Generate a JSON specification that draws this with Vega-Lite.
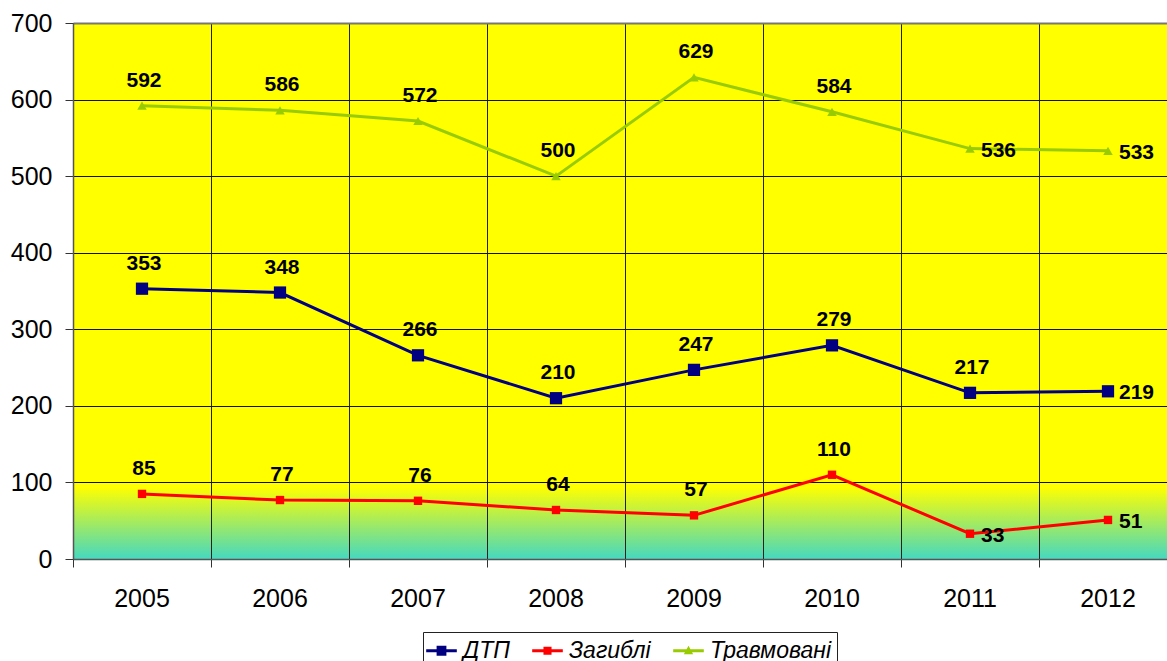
{
  "$schema": "https://vega.github.io/schema/vega-lite/v6.json",
  "width": 1094,
  "height": 536,
  "autosize": {"type": "none"},
  "padding": {"left": 73, "top": 23, "right": 0, "bottom": 102},
  "background": "white",
  "view": {
    "stroke": null,
    "fill": {
      "gradient": "linear",
      "x1": 0, "y1": 0, "x2": 0, "y2": 1,
      "stops": [
        {"offset": 0, "color": "#ffff00"},
        {"offset": 0.865, "color": "#ffff00"},
        {"offset": 0.93, "color": "#a6eb5e"},
        {"offset": 1, "color": "#45d8c0"}
      ]
    }
  },
  "config": {
    "font": "Liberation Sans",
    "axis": {"labelFont": "Liberation Sans", "labelColor": "black", "labelFontSize": 25, "title": null}
  },
  "data": {
    "values": [
      {"year": "2005", "series": "ДТП", "value": 353},
      {"year": "2006", "series": "ДТП", "value": 348},
      {"year": "2007", "series": "ДТП", "value": 266},
      {"year": "2008", "series": "ДТП", "value": 210},
      {"year": "2009", "series": "ДТП", "value": 247},
      {"year": "2010", "series": "ДТП", "value": 279},
      {"year": "2011", "series": "ДТП", "value": 217},
      {"year": "2012", "series": "ДТП", "value": 219},
      {"year": "2005", "series": "Загиблі", "value": 85},
      {"year": "2006", "series": "Загиблі", "value": 77},
      {"year": "2007", "series": "Загиблі", "value": 76},
      {"year": "2008", "series": "Загиблі", "value": 64},
      {"year": "2009", "series": "Загиблі", "value": 57},
      {"year": "2010", "series": "Загиблі", "value": 110},
      {"year": "2011", "series": "Загиблі", "value": 33},
      {"year": "2012", "series": "Загиблі", "value": 51},
      {"year": "2005", "series": "Травмовані", "value": 592},
      {"year": "2006", "series": "Травмовані", "value": 586},
      {"year": "2007", "series": "Травмовані", "value": 572},
      {"year": "2008", "series": "Травмовані", "value": 500},
      {"year": "2009", "series": "Травмовані", "value": 629},
      {"year": "2010", "series": "Травмовані", "value": 584},
      {"year": "2011", "series": "Травмовані", "value": 536},
      {"year": "2012", "series": "Травмовані", "value": 533}
    ]
  },
  "encoding": {
    "x": {
      "field": "year", "type": "ordinal",
      "scale": {"type": "band", "paddingInner": 0, "paddingOuter": 0, "range": [0, 1104]},
      "axis": {
        "bandPosition": 0, "labelAngle": 0, "grid": true, "gridColor": "#222", "gridWidth": 1,
        "domainColor": "#555", "domainWidth": 1.5, "tickColor": "#333", "tickSize": 8, "tickWidth": 1,
        "labelPadding": 19, "labelFlush": false
      }
    },
    "y": {
      "field": "value", "type": "quantitative",
      "scale": {"domain": [0, 700], "nice": false},
      "axis": {
        "values": [0, 100, 200, 300, 400, 500, 600, 700],
        "grid": true,
        "gridColor": {"condition": {"test": "datum.value == 700", "value": "#777"}, "value": "#111"},
        "gridWidth": {"condition": {"test": "datum.value == 700", "value": 2}, "value": 1},
        "domainColor": "#555", "domainWidth": 1.5, "tickColor": "#333", "tickSize": 8,
        "labelPadding": 13
      }
    },
    "color": {
      "field": "series", "type": "nominal",
      "scale": {"domain": ["ДТП", "Загиблі", "Травмовані"], "range": ["#000080", "#ff0000", "#99cc00"]}
    }
  },
  "layer": [
    {
      "mark": {"type": "line", "strokeWidth": 3},
      "encoding": {"detail": {"field": "series"}}
    },
    {
      "mark": {"type": "point", "filled": true, "opacity": 0},
      "encoding": {
        "shape": {
          "field": "series", "type": "nominal",
          "scale": {
            "domain": ["ДТП", "Загиблі", "Травмовані"],
            "range": [
              "M-1.25,-0.13H1.25V0.13H-1.25Z M-0.4,-0.4H0.4V0.4H-0.4Z",
              "M-1.25,-0.13H1.25V0.13H-1.25Z M-0.33,-0.33H0.33V0.33H-0.33Z",
              "M-1.25,-0.13H1.25V0.13H-1.25Z M0,-0.4L0.38,0.28H-0.38Z"
            ]
          },
          "legend": {
            "title": null, "orient": "none", "legendX": 350, "legendY": 609,
            "direction": "horizontal", "columns": 3,
            "strokeColor": "#222", "padding": 6, "columnPadding": 22,
            "symbolSize": 600, "symbolOpacity": 1, "symbolStrokeWidth": 0,
            "labelFont": "Liberation Sans", "labelFontStyle": "italic", "labelFontSize": 23,
            "labelColor": "black", "labelOffset": 9
          }
        }
      }
    },
    {
      "transform": [{"filter": "datum.series == 'ДТП'"}],
      "mark": {"type": "point", "shape": "square", "filled": true, "opacity": 1, "size": 150}
    },
    {
      "transform": [{"filter": "datum.series == 'Загиблі'"}],
      "mark": {"type": "point", "shape": "square", "filled": true, "opacity": 1, "size": 70}
    },
    {
      "transform": [{"filter": "datum.series == 'Травмовані'"}],
      "mark": {"type": "point", "shape": "triangle-up", "filled": true, "opacity": 1, "size": 90}
    },
    {
      "transform": [{"filter": "!(datum.year == '2012' || (datum.year == '2011' && datum.series != 'ДТП'))"}],
      "mark": {"type": "text", "fontWeight": "bold", "fontSize": 21, "color": "black", "baseline": "middle", "dy": -25, "dx": 2},
      "encoding": {"text": {"field": "value"}, "color": {"value": "black"}}
    },
    {
      "transform": [{"filter": "datum.year == '2012' || (datum.year == '2011' && datum.series != 'ДТП')"}],
      "mark": {"type": "text", "fontWeight": "bold", "fontSize": 21, "color": "black", "baseline": "middle", "align": "left", "dx": 11, "dy": 2},
      "encoding": {"text": {"field": "value"}, "color": {"value": "black"}}
    }
  ]
}
